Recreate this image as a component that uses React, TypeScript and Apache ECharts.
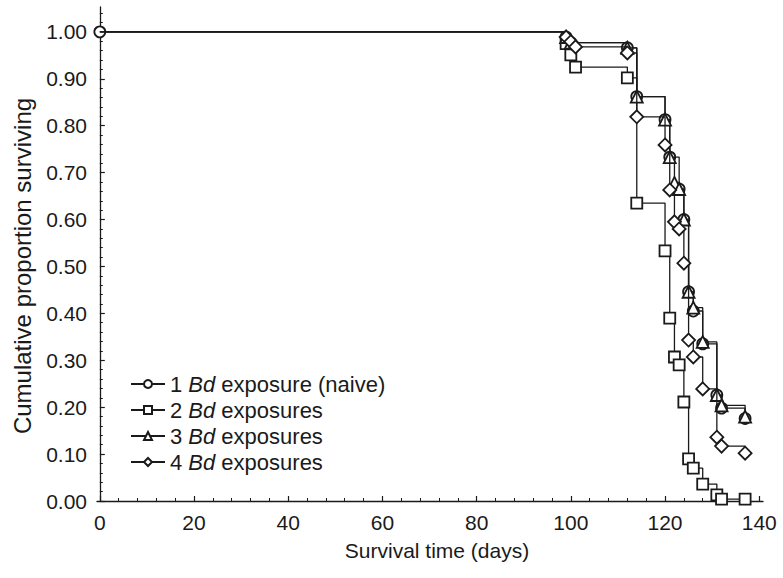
import React, { useEffect, useRef } from "react";
import * as echarts from "echarts";

const seriesNames = ["1 Bd exposure (naive)", "2 Bd exposures", "3 Bd exposures", "4 Bd exposures"];
const seriesSymbols = ["circle", "rect", "triangle", "diamond"];
const firstMarker = [true, false, false, false];

const naiveDays = [0, 99, 100, 112, 114, 120, 121, 123, 124, 125, 126, 128, 131, 132, 137];
const naiveSurv = [1.0, 0.989, 0.977, 0.966, 0.862, 0.813, 0.733, 0.665, 0.6, 0.446, 0.405, 0.335, 0.226, 0.198, 0.176];

const twoDays = [0, 99, 100, 101, 112, 114, 120, 121, 122, 123, 124, 125, 126, 128, 131, 132, 137];
const twoSurv = [1.0, 0.975, 0.951, 0.925, 0.902, 0.635, 0.533, 0.39, 0.307, 0.29, 0.211, 0.09, 0.07, 0.036, 0.013, 0.004, 0.004];

const threeDays = [0, 99, 100, 112, 114, 120, 121, 122, 123, 124, 125, 126, 128, 131, 132, 137];
const threeSurv = [1.0, 0.989, 0.977, 0.966, 0.862, 0.813, 0.733, 0.678, 0.665, 0.6, 0.446, 0.412, 0.339, 0.226, 0.204, 0.18];

const fourDays = [0, 99, 100, 101, 112, 114, 120, 121, 122, 123, 124, 125, 126, 128, 131, 132, 137];
const fourSurv = [1.0, 0.989, 0.979, 0.968, 0.955, 0.819, 0.759, 0.663, 0.595, 0.58, 0.507, 0.343, 0.307, 0.239, 0.136, 0.117, 0.102];

const xMajorTicks = [0, 20, 40, 60, 80, 100, 120, 140];
const xMinorTicks = [4, 8, 12, 16, 24, 28, 32, 36, 44, 48, 52, 56, 64, 68, 72, 76, 84, 88, 92, 96, 104, 108, 112, 116, 124, 128, 132, 136];
const yMajorTicks = [0, 0.1, 0.2, 0.3, 0.4, 0.5, 0.6, 0.7, 0.8, 0.9, 1.0];
const yMinorTicks = [0.02, 0.04, 0.06, 0.08, 0.12, 0.14, 0.16, 0.18, 0.22, 0.24, 0.26, 0.28, 0.32, 0.34, 0.36, 0.38, 0.42, 0.44, 0.46, 0.48, 0.52, 0.54, 0.56, 0.58, 0.62, 0.64, 0.66, 0.68, 0.72, 0.74, 0.76, 0.78, 0.82, 0.84, 0.86, 0.88, 0.92, 0.94, 0.96, 0.98, 1.02, 1.04];

const FONT = '"Liberation Sans", Arial, sans-serif';
const INK = "#1a1a1a";
const X_MIN = -0.6;
const X_MAX = 140.8;
const Y_MIN = 0;
const Y_MAX = 1.053;

function buildSeries(idx: number, days: number[], surv: number[]) {
  const sym = seriesSymbols[idx];
  return {
    name: seriesNames[idx],
    type: "line",
    step: "end",
    symbol: sym,
    symbolSize: sym === "diamond" ? 13 : sym === "triangle" ? 12 : 11,
    showAllSymbol: true,
    z: 2 + idx,
    lineStyle: { color: INK, width: 1.3 },
    itemStyle: { color: "#ffffff", borderColor: INK, borderWidth: 1.8 },
    emphasis: { disabled: true },
    data: days.map((d, i) => {
      const item: any = { value: [d, surv[i]] };
      if (i === 0 && !firstMarker[idx]) item.symbol = "none";
      return item;
    }),
  };
}

export default function App() {
  const ref = useRef<HTMLDivElement>(null);
  useEffect(() => {
    const chart = echarts.init(ref.current!, null, { renderer: "svg" });
    const option: any = {
      animation: false,
      backgroundColor: "#ffffff",
      textStyle: { fontFamily: FONT, color: INK },
      grid: { left: 97, right: 20, top: 7, bottom: 77, containLabel: false },
      legend: {
        orient: "vertical",
        left: 125,
        top: 368,
        itemWidth: 34,
        itemHeight: 10,
        itemGap: 4,
        selectedMode: false,
        data: seriesNames,
        textStyle: {
          fontFamily: FONT,
          fontSize: 22,
          color: INK,
          rich: {
            i: { fontStyle: "italic", fontFamily: FONT, fontSize: 22, color: INK },
          },
        },
        formatter: (name: string) => name.replace("Bd", "{i|Bd}"),
      },
      xAxis: [
        {
          type: "value",
          min: X_MIN,
          max: X_MAX,
          name: "Survival time (days)",
          nameLocation: "middle",
          nameGap: 39,
          nameTextStyle: { fontFamily: FONT, fontSize: 21, color: INK, padding: [0, 0, 0, 14] },
          axisLine: { show: true, lineStyle: { color: INK, width: 1.3 } },
          axisTick: { show: true, inside: true, length: 5, customValues: xMajorTicks, lineStyle: { color: INK, width: 1.2 } },
          axisLabel: { show: true, customValues: xMajorTicks, margin: 11, fontFamily: FONT, fontSize: 21, color: INK },
          splitLine: { show: false },
        },
        {
          type: "value",
          min: X_MIN,
          max: X_MAX,
          position: "bottom",
          axisLine: { show: false },
          axisTick: { show: true, inside: true, length: 3, customValues: xMinorTicks, lineStyle: { color: INK, width: 1 } },
          axisLabel: { show: false },
          splitLine: { show: false },
        },
      ],
      yAxis: [
        {
          type: "value",
          min: Y_MIN,
          max: Y_MAX,
          name: "Cumulative proportion surviving",
          nameLocation: "middle",
          nameGap: 63,
          nameTextStyle: { fontFamily: FONT, fontSize: 24, color: INK, padding: [0, 24, 0, 0] },
          axisLine: { show: true, lineStyle: { color: INK, width: 1.3 } },
          axisTick: { show: true, inside: true, length: 5, customValues: yMajorTicks, lineStyle: { color: INK, width: 1.2 } },
          axisLabel: {
            show: true,
            customValues: yMajorTicks,
            margin: 10,
            fontFamily: FONT,
            fontSize: 21,
            color: INK,
            formatter: (v: number) => v.toFixed(2),
          },
          splitLine: { show: false },
        },
        {
          type: "value",
          min: Y_MIN,
          max: Y_MAX,
          position: "left",
          axisLine: { show: false },
          axisTick: { show: true, inside: true, length: 3, customValues: yMinorTicks, lineStyle: { color: INK, width: 1 } },
          axisLabel: { show: false },
          splitLine: { show: false },
        },
      ],
      series: [
        buildSeries(0, naiveDays, naiveSurv),
        buildSeries(1, twoDays, twoSurv),
        buildSeries(2, threeDays, threeSurv),
        buildSeries(3, fourDays, fourSurv),
      ],
    };
    chart.setOption(option);
    return () => chart.dispose();
  }, []);
  return (
    <div
      ref={ref}
      style={{ position: "fixed", left: 0, top: 0, width: 783, height: 578, background: "#fff" }}
    />
  );
}
